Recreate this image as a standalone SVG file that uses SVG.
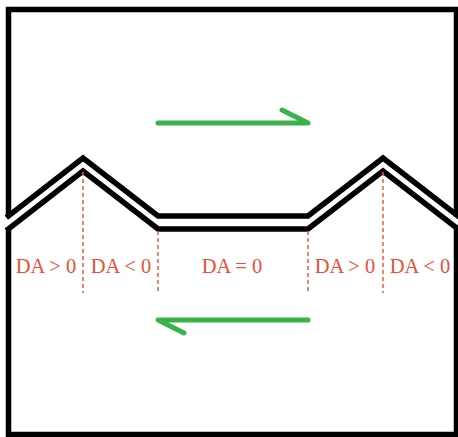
<svg xmlns="http://www.w3.org/2000/svg" width="458" height="437" viewBox="0 0 458 437">
<style>
.wall{fill:none;stroke:#000;stroke-width:5.5;stroke-linejoin:miter;stroke-linecap:square}
.dash{fill:none;stroke:#ee5a3f;stroke-width:1.5;stroke-dasharray:4 3}
.arrow{fill:none;stroke:#37b34a;stroke-width:5;stroke-linecap:round;stroke-linejoin:round}
.lbl{font-family:"Liberation Serif","Times New Roman",serif;font-size:20.5px;fill:#ec4f36;text-anchor:middle}
</style>
<rect width="458" height="437" fill="#fff"/>
<g id="walls">
<path class="wall" d="M8.5,214 V9.5 H456.5 V214"/>
<path class="wall" d="M8.5,230 V434.5 H456.5 V230"/>
<path class="wall" d="M8.5,216 L83,158 L158,216 L308,216 L383,158 L458,216"/>
<path class="wall" d="M8.5,229 L83,171 L158,229 L308,229 L383,171 L458,229"/>
</g>
<g id="guides">
<line class="dash" x1="83" y1="172" x2="83" y2="293"/>
<line class="dash" x1="158" y1="231" x2="158" y2="293"/>
<line class="dash" x1="308" y1="231" x2="308" y2="293"/>
<line class="dash" x1="383" y1="172" x2="383" y2="293"/>
</g>
<g id="labels">
<text class="lbl" x="46" y="273">DA &gt; 0</text>
<text class="lbl" x="121" y="273">DA &lt; 0</text>
<text class="lbl" x="232" y="273">DA = 0</text>
<text class="lbl" x="345" y="273">DA &gt; 0</text>
<text class="lbl" x="420" y="273">DA &lt; 0</text>
</g>
<g id="connectors">
<path class="arrow" d="M158,123 H308 L282,110"/>
<path class="arrow" d="M308,320 H158 L184,333"/>
</g>
</svg>
